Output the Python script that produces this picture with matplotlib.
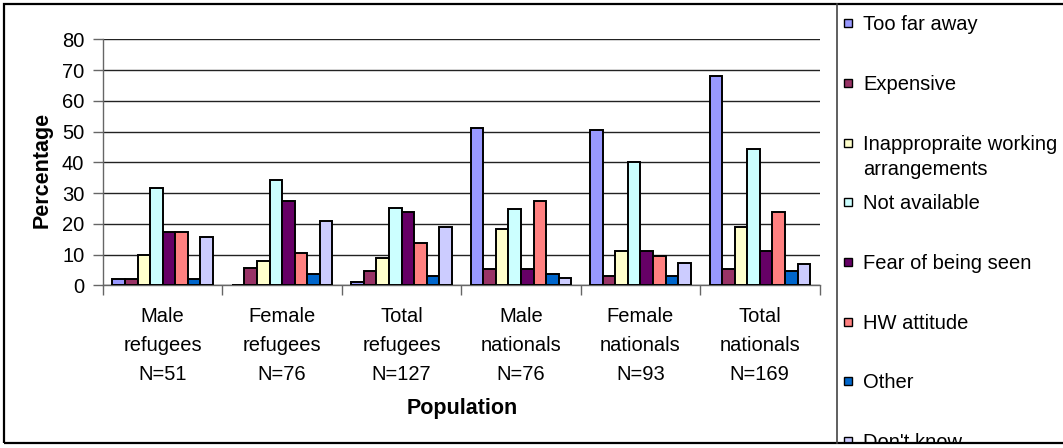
import numpy as np
import matplotlib
matplotlib.use("Agg")
import matplotlib.pyplot as plt
from matplotlib.patches import Rectangle

plt.rcParams["font.family"] = ["Liberation Sans", "DejaVu Sans"]

W, H = 1063, 448

GROUPS = [
    "Male\nrefugees\nN=51",
    "Female\nrefugees\nN=76",
    "Total\nrefugees\nN=127",
    "Male\nnationals\nN=76",
    "Female\nnationals\nN=93",
    "Total\nnationals\nN=169",
]

REASONS = [
    "Too far away",
    "Expensive",
    "Inappropraite working\narrangements",
    "Not available",
    "Fear of being seen",
    "HW attitude",
    "Other",
    "Don't know",
]

too_far = [2.0, 0.0, 1.0, 51.0, 50.5, 68.0]
expensive = [2.0, 5.7, 4.8, 5.3, 3.0, 5.3]
inappropriate = [10.0, 7.9, 9.0, 18.4, 11.1, 18.9]
not_available = [31.5, 34.1, 25.3, 24.7, 40.0, 44.3]
fear_seen = [17.3, 27.4, 23.7, 5.3, 11.1, 11.1]
hw_attitude = [17.3, 10.4, 13.7, 27.4, 9.4, 23.7]
other = [2.0, 3.7, 3.1, 3.6, 3.0, 4.8]
dont_know = [15.8, 21.0, 18.9, 2.5, 7.4, 6.8]

SERIES = [too_far, expensive, inappropriate, not_available,
          fear_seen, hw_attitude, other, dont_know]
COLORS = ["#9999FF", "#993366", "#FFFFCC", "#CCFFFF",
          "#660066", "#FF8080", "#0066CC", "#CCCCFF"]


def fx(px):
    return px / W


def fy(py):
    return 1 - py / H


fig = plt.figure(figsize=(W / 100, H / 100), dpi=100)
ax = fig.add_axes([fx(103), fy(285.3), fx(819.5) - fx(103), fy(39.3) - fy(285.3)])

x = np.arange(len(GROUPS))
width = 1 / 9.5
for j, (values, color) in enumerate(zip(SERIES, COLORS)):
    ax.bar(x + (j - 3.5) * width, values, width, color=color,
           edgecolor="black", linewidth=1.4, zorder=3)

ax.set_xlim(-0.5, len(GROUPS) - 0.5)
ax.set_ylim(0, 80)
ax.set_yticks(np.arange(0, 81, 10))
ax.yaxis.grid(True, color="#222222", linewidth=1.0, zorder=0)
ax.set_axisbelow(True)

# group names are written line by line under each category
ax.set_xticks(x)
ax.set_xticklabels([])
ax.set_xticks(np.arange(-0.5, len(GROUPS)), minor=True)
ax.tick_params(axis="x", which="major", length=0)
ax.tick_params(axis="x", which="minor", length=7, width=1, color="#666666")
ax.tick_params(axis="y", length=7, width=1, color="#666666", pad=6.5, labelsize=14.5)
for xi, group in zip(x, GROUPS):
    for k, line in enumerate(group.split("\n")):
        ax.annotate(line, xy=(xi, 0), xycoords=("data", "axes fraction"),
                    xytext=(0, -(315 + 29 * k + 7 - 285.3) * 0.72),
                    textcoords="offset points", ha="center", va="baseline",
                    fontsize=14.5, annotation_clip=False)

for side in ("top", "right"):
    ax.spines[side].set_visible(False)
for side in ("left", "bottom"):
    ax.spines[side].set_color("#666666")
    ax.spines[side].set_linewidth(1.0)

fig.text(fx(42), fy(170), "Percentage", rotation=90, ha="center", va="center",
         fontsize=15.5, fontweight="bold")
fig.text(fx(462), fy(408), "Population", ha="center", va="center",
         fontsize=15.5, fontweight="bold")

# legend panel on the right, cut off at the bottom border
lax = fig.add_axes([fx(837), fy(443), fx(W) - fx(837), fy(4) - fy(443)])
lax.axis("off")
legend_rows = [23, 83, 143, 202, 262, 322, 381, 441]
for label, color, row in zip(REASONS, COLORS, legend_rows):
    lax.add_patch(Rectangle((fx(844), fy(row + 4)), fx(8), 8 / H,
                            transform=fig.transFigure, facecolor=color,
                            edgecolor="black", linewidth=1.0, clip_on=True))
    for k, line in enumerate(label.split("\n")):
        lax.text(fx(863), fy(row + 7 + 25 * k), line, transform=fig.transFigure,
                 ha="left", va="baseline", fontsize=14.5, clip_on=True)

# outer frame and legend divider
fig.add_artist(Rectangle((fx(4), fy(443)), fx(1080) - fx(4), fy(4) - fy(443),
                         transform=fig.transFigure, fill=False,
                         edgecolor="black", linewidth=1.6))
fig.add_artist(plt.Line2D([fx(836.5), fx(836.5)], [fy(443), fy(4)],
                          transform=fig.transFigure, color="#444444", linewidth=1.2))

fig.savefig("out.png", dpi=100)
